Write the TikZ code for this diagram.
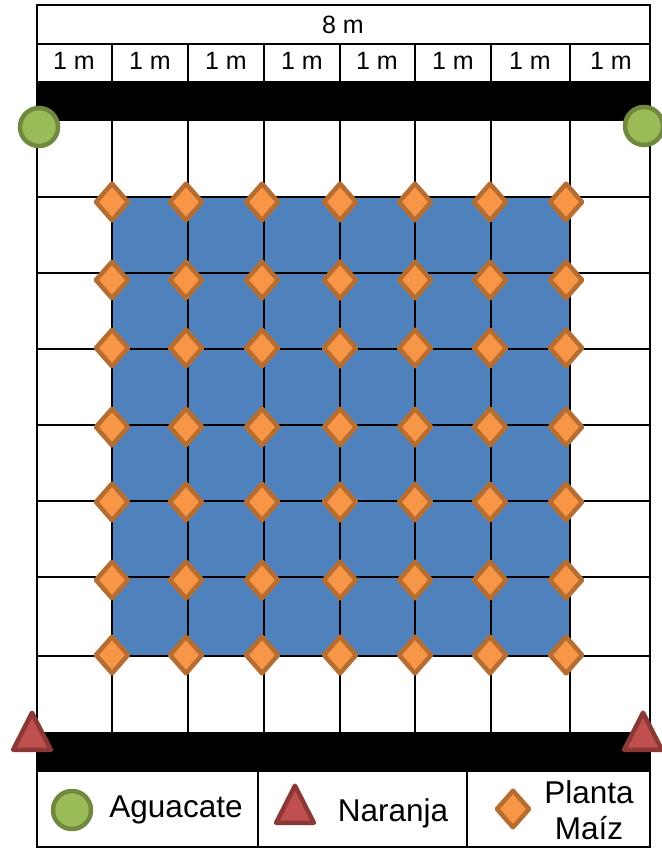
\documentclass[tikz,border=0pt]{standalone}
\usepackage{fontspec}
\setmainfont{Liberation Sans}
\usetikzlibrary{shapes.geometric}
\definecolor{parcela}{HTML}{4F81BD}
\definecolor{aguacate}{HTML}{9BBB59}
\definecolor{aguacateb}{HTML}{71893F}
\definecolor{naranja}{HTML}{C0504D}
\definecolor{naranjab}{HTML}{8C3836}
\definecolor{maiz}{HTML}{F79646}
\definecolor{maizb}{HTML}{B66D31}
\tikzset{
	arbol/.style={circle, draw=aguacateb, fill=aguacate, line width=4.5pt, minimum size=38pt, inner sep=0pt},
	citrico/.style={isosceles triangle, isosceles triangle apex angle=54, shape border rotate=90, draw=naranjab, fill=naranja, line width=4.5pt, line join=round, minimum height=37pt, inner sep=0pt, anchor=lower side},
	planta/.style={diamond, draw=maizb, fill=maiz, line width=4.5pt, line join=round, minimum width=34pt, minimum height=38.5pt, inner sep=0pt},
	rejilla/.style={line width=2pt},
	marco/.style={line width=2.5pt},
	medida/.style={font=\fontsize{25}{25}\selectfont},
	leyenda/.style={font=\fontsize{31.5}{36}\selectfont, align=center}
}
\begin{document}
\begin{tikzpicture}[x=1pt, y=-1pt]
	\useasboundingbox (0, 0) rectangle (661, 848);
	\fill[white] (0, 0) rectangle (661, 848);
	
	\fill[parcela] (112, 197) rectangle (570, 656);
	\fill (37, 81) rectangle (650, 121);
	\fill (37, 732) rectangle (650, 772);
	
	\foreach \x in {112, 188, 264, 340, 415, 491, 570}{
		\draw[rejilla] (\x, 44)--(\x, 81);
		\draw[rejilla] (\x, 121)--(\x, 732);
	}
	\foreach \y in {197, 273, 349, 425, 501, 577, 656}{
		\draw[rejilla] (37, \y)--(650, \y);
	}
	\draw[rejilla] (37, 44)--(650, 44);
	\draw[rejilla] (258, 772)--(258, 847);
	\draw[rejilla] (467, 772)--(467, 847);
	\draw[marco] (37, 5) rectangle (650, 847);
	
	\node[medida] (total) at (343, 25) {8 m};
	\node[medida] (m1) at (74, 61) {1 m};
	\node[medida] (m2) at (150, 61) {1 m};
	\node[medida] (m3) at (226, 61) {1 m};
	\node[medida] (m4) at (302, 61) {1 m};
	\node[medida] (m5) at (377, 61) {1 m};
	\node[medida] (m6) at (453, 61) {1 m};
	\node[medida] (m7) at (530, 61) {1 m};
	\node[medida] (m8) at (611, 61) {1 m};
	
	\foreach \x/\i in {112/1, 186/2, 262/3, 340/4, 415/5, 490/6, 566/7}{
		\foreach \y/\j in {202/1, 280/2, 348/3, 427/4, 502/5, 580/6, 655/7}{
			\node[planta] (p\i\j) at (\x, \y) {};
		}
	}
	
	\node[arbol] (a1) at (39, 127) {};
	\node[arbol] (a2) at (644, 126) {};
	\node[citrico] (n1) at (32, 752) {};
	\node[citrico] (n2) at (643, 752) {};
	
	\node[arbol] (la) at (72, 810) {};
	\node[citrico] (ln) at (295, 825) {};
	\node[planta] (lm) at (513, 809) {};
	\node[leyenda] (ta) at (176, 810) {Aguacate};
	\node[leyenda] (tn) at (393, 813) {Naranja};
	\node[leyenda] (tm) at (589, 810) {Planta\\Maíz};
\end{tikzpicture}
\end{document}
